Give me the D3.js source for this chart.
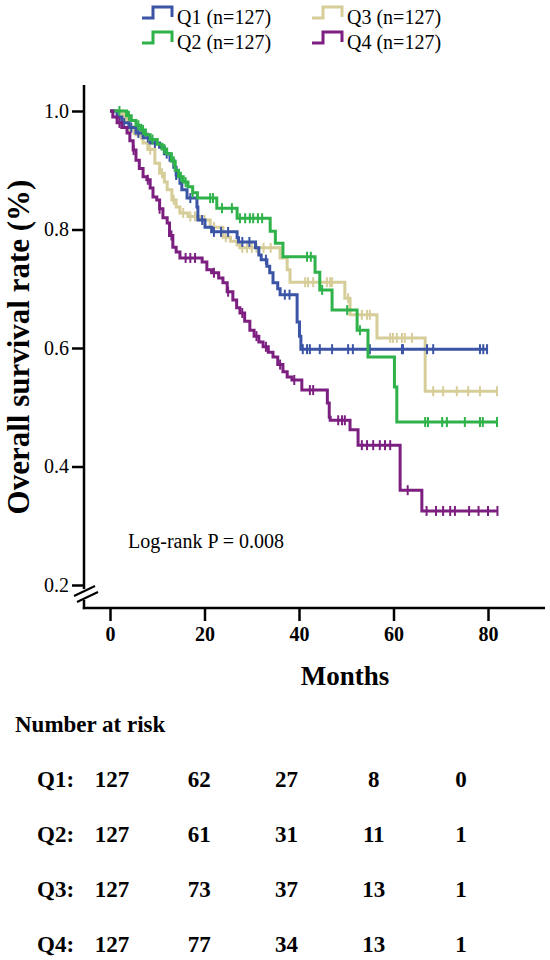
<!DOCTYPE html>
<html><head><meta charset="utf-8">
<script src="https://cdn.jsdelivr.net/npm/d3@7/dist/d3.min.js"></script>
<style>
html,body{margin:0;padding:0;background:#fff;}
svg{display:block;}
</style></head>
<body>
<svg id="chart" width="550" height="960" font-family="'Liberation Serif','Times New Roman',serif"></svg>
<script>
// ---------- data ----------
const groups = ["Q1","Q2","Q3","Q4"];
const groupLabels = ["Q1 (n=127)","Q2 (n=127)","Q3 (n=127)","Q4 (n=127)"];
const colors = ["#3b54a6","#2fb24a","#d6cd98","#7c1f80"];

// KM step events: [month, survival after event]
const q1Events = [[0,1],[1.5,0.99],[2.5,0.98],[4,0.972],[5.5,0.963],[7,0.955],[8.5,0.946],[10.5,0.939],[11.5,0.928],[12.7,0.917],[13.5,0.905],[14,0.892],[14.8,0.878],[15.2,0.867],[16.3,0.853],[18.4,0.838],[18.6,0.816],[20.1,0.804],[21.5,0.796],[26.9,0.786],[27.2,0.779],[30.8,0.769],[31.5,0.757],[32,0.749],[33.2,0.738],[33.8,0.727],[34.5,0.71],[35.5,0.7],[36,0.69],[39.6,0.644],[40.1,0.62],[40.4,0.598]];
const q2Events = [[0,1],[3.5,0.992],[4.5,0.984],[5.5,0.976],[6.5,0.968],[7.5,0.96],[8.5,0.952],[10,0.944],[11,0.936],[12,0.928],[13,0.915],[13.8,0.9],[14.5,0.889],[15.5,0.88],[16.5,0.872],[17.5,0.862],[18.5,0.853],[22.6,0.836],[26.9,0.819],[33.9,0.797],[35,0.777],[36.6,0.754],[43.4,0.728],[44.4,0.698],[47,0.664],[52.3,0.63],[54.6,0.585],[60.2,0.534],[60.7,0.475]];
const q3Events = [[0,1],[2.5,0.992],[3.5,0.984],[4.2,0.968],[5.5,0.96],[7,0.946],[8,0.935],[9.5,0.912],[10.5,0.895],[11.5,0.88],[12.1,0.867],[13.1,0.85],[14,0.838],[14.8,0.828],[16.5,0.822],[19,0.816],[21.2,0.804],[23.9,0.787],[25.5,0.78],[26.9,0.774],[27.5,0.769],[36,0.752],[37.5,0.732],[38.1,0.711],[49.7,0.684],[50.8,0.656],[56.5,0.617],[66.7,0.527]];
const q4Events = [[0,1],[0.6,0.99],[1.5,0.98],[2.5,0.972],[3.6,0.963],[4.2,0.95],[4.9,0.934],[5.5,0.917],[6.2,0.903],[7,0.889],[7.8,0.884],[8.5,0.87],[9.1,0.855],[9.9,0.85],[10.5,0.835],[11.2,0.82],[12.1,0.811],[12.6,0.79],[13.3,0.77],[14,0.762],[14.8,0.752],[19.5,0.745],[20.5,0.732],[21.5,0.727],[23,0.718],[23.9,0.71],[24.8,0.695],[26,0.681],[26.8,0.668],[27.5,0.659],[28.5,0.645],[29.6,0.63],[30.5,0.62],[31.5,0.61],[32.4,0.602],[33.5,0.593],[34.5,0.585],[35.5,0.572],[36.6,0.56],[37.5,0.551],[38.5,0.546],[40.6,0.529],[46,0.507],[46.4,0.483],[46.6,0.478],[50.8,0.462],[52.5,0.436],[61.4,0.36],[66,0.325]];
const endTimes = [79.8, 82.1, 82.1, 82.0];

// censored observation times (months)
const q1Censor = [3,4.5,6,8,9.5,12,14,17,19.5,22,23.5,25,28,29.5,33,37,38,40.8,41.7,42.3,44.4,47,50.4,51.4,55,61.8,62,67.1,68.4,78.3,79,79.8];
const q2Censor = [2,4,6,7,9,11.5,13.5,15,16,17.5,21.2,21.8,23.7,25.8,27.5,28.6,29.6,30.3,31.3,32.2,41.7,42.5,44.9,50.2,52.9,66.7,67.3,70.3,71.3,75.1,78.3,78.9,81.9];
const q3Censor = [3,5,6.5,8.5,11,13.5,15.5,17,18,20,22,24.5,28,29,30,31,32.5,34,41.3,41.9,43,45.9,46.6,47,50.4,53.3,54.4,55,59.3,59.9,60.7,61.8,62.4,63.9,68.4,70.5,73.4,75.8,78.3,81.9];
const q4Censor = [2,5,8,10.5,13,16,17,18,22,25,28,31,33,36,39,42.3,43,48.3,49.1,49.7,53.3,54.4,55.7,57.1,58.2,59.3,63,67,69,70.5,72,73,76,78,80,82];

const xTicks = [0,20,40,60,80];
const yTicks = [0.2,0.4,0.6,0.8,1.0];
const riskTimes = [0,20,40,60,80];
const riskQ1 = [127,62,27,8,0];
const riskQ2 = [127,61,31,11,1];
const riskQ3 = [127,73,37,13,1];
const riskQ4 = [127,77,34,13,1];
const pText = "Log-rank P = 0.008";

// ---------- drawing ----------
const FF = "'Liberation Serif','Times New Roman',serif";
const svg = d3.select("#chart");
const x = d3.scaleLinear().domain([0,80]).range([110,488]);
const y = d3.scaleLinear().domain([0.2,1.0]).range([585,111]);
const axisX0 = 84, axisY0 = 608;

const events = [q1Events,q2Events,q3Events,q4Events];
const censors = [q1Censor,q2Censor,q3Censor,q4Censor];
const risks = [riskQ1,riskQ2,riskQ3,riskQ4];

function survAt(ev, t){
  let s = 1;
  for (const [tt,ss] of ev){ if (tt <= t) s = ss; else break; }
  return s;
}
function txt(sel){ return sel.attr("font-family",FF).attr("fill","#000"); }

// axes
const yAxis = d3.axisLeft(y).tickValues(yTicks).tickSize(12).tickPadding(3).tickFormat(d3.format(".1f"));
const gy = svg.append("g").attr("transform",`translate(${axisX0},0)`).call(yAxis).attr("font-family",FF);
gy.select(".domain").remove();
gy.selectAll(".tick line").attr("stroke","#000").attr("stroke-width",2.5);
gy.selectAll(".tick text").attr("font-size",20).call(txt);

const xAxis = d3.axisBottom(x).tickValues(xTicks).tickSize(13).tickPadding(6);
const gx = svg.append("g").attr("transform",`translate(0,${axisY0})`).call(xAxis).attr("font-family",FF);
gx.select(".domain").remove();
gx.selectAll(".tick line").attr("stroke","#000").attr("stroke-width",2.5);
gx.selectAll(".tick text").attr("font-size",20).attr("font-weight","bold").call(txt);

// axis lines with break
const axisTop = y(1.0) - 26;
svg.append("line").attr("x1",axisX0).attr("x2",axisX0).attr("y1",axisTop).attr("y2",589)
  .attr("stroke","#000").attr("stroke-width",2.5);
svg.append("line").attr("x1",axisX0).attr("x2",axisX0).attr("y1",600).attr("y2",axisY0+1.2)
  .attr("stroke","#000").attr("stroke-width",2.5);
svg.append("line").attr("x1",axisX0-1.2).attr("x2",545).attr("y1",axisY0).attr("y2",axisY0)
  .attr("stroke","#000").attr("stroke-width",2.5);
[0,6].forEach(o=>{
  svg.append("line").attr("x1",74+o*0.5).attr("y1",596+o).attr("x2",95+o*0.5).attr("y2",586+o)
    .attr("stroke","#000").attr("stroke-width",2);
});

// curves
const line = d3.line().x(d=>x(d[0])).y(d=>y(d[1])).curve(d3.curveStepAfter);
[2,0,1,3].forEach(i=>{
  const ev = events[i];
  const pts = ev.concat([[endTimes[i], ev[ev.length-1][1]]]);
  svg.append("path").datum(pts).attr("d",line).attr("fill","none")
    .attr("stroke",colors[i]).attr("stroke-width",3).attr("stroke-linejoin","miter");
  svg.append("g").selectAll("line").data(censors[i]).join("line")
    .attr("x1",d=>x(d)).attr("x2",d=>x(d))
    .attr("y1",d=>y(survAt(ev,d))-5).attr("y2",d=>y(survAt(ev,d))+5)
    .attr("stroke",colors[i]).attr("stroke-width",2);
});

// legend
const legPos = [[142,18,177,24],[142,43,177,49],[312,18,347,24],[312,43,347,49]];
groups.forEach((g,i)=>{
  const [lx,ly,tx,ty] = legPos[i];
  svg.append("path").attr("d",`M${lx},${ly} H${lx+11} V${ly-11} H${lx+30} V${ly-1}`)
    .attr("fill","none").attr("stroke",colors[i]).attr("stroke-width",3);
  svg.append("text").attr("x",tx).attr("y",ty).attr("font-size",20).call(txt).text(groupLabels[i]);
});

// axis titles
svg.append("text").attr("transform","translate(29,347) rotate(-90)").attr("text-anchor","middle")
  .attr("font-size",31).attr("font-weight","bold").call(txt).text("Overall survival rate (%)");
svg.append("text").attr("x",345).attr("y",685).attr("text-anchor","middle")
  .attr("font-size",27).attr("font-weight","bold").call(txt).text("Months");

// p value
svg.append("text").attr("x",128).attr("y",548).attr("font-size",20).call(txt).text(pText);

// risk table
svg.append("text").attr("x",15).attr("y",732).attr("font-size",23).attr("font-weight","bold").call(txt).text("Number at risk");
const col = d3.scalePoint().domain(riskTimes).range([112,461]);
const rowY = d3.scalePoint().domain(groups).range([787,952]);
groups.forEach((g,i)=>{
  svg.append("text").attr("x",37).attr("y",rowY(g)).attr("font-size",23).attr("font-weight","bold").call(txt).text(g+":");
  riskTimes.forEach((t,j)=>{
    svg.append("text").attr("x",col(t)).attr("y",rowY(g)).attr("text-anchor","middle")
      .attr("font-size",23).attr("font-weight","bold").call(txt).text(risks[i][j]);
  });
});
</script>
</body></html>
